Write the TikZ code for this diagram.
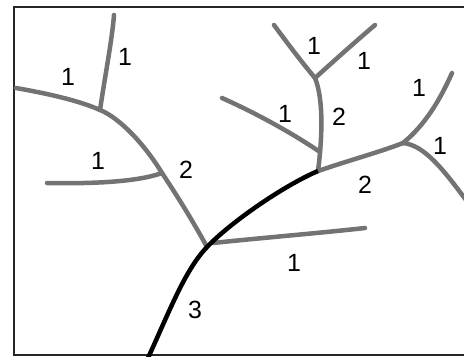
\documentclass[tikz,border=0pt]{standalone}
\usepackage{fontspec}
\setmainfont{Liberation Sans}
\begin{document}
\begin{tikzpicture}[x=1bp,y=-1bp,
  trib/.style={draw=black!55,line width=4.5bp,line cap=round},
  trunk/.style={draw=black,line width=4.5bp},
  frame/.style={draw=black!85,line width=1.6bp},
  lab/.style={font=\fontsize{25}{25}\selectfont,inner sep=0pt}]
\useasboundingbox (0,0) rectangle (464,356);
\fill[white] (0,0) rectangle (464,356);
% frame
\coordinate (ftr) at (464,7);
\coordinate (ftl) at (14,7);
\coordinate (fbl) at (14,356);
\coordinate (fbr) at (464,355);
\draw[frame] (ftr) -- (ftl) -- (fbl);
\draw[frame] (14,355) -- (fbr);
% junctions and ends
\coordinate (mouth) at (148,358);
\coordinate (j1) at (207,247);
\coordinate (j2) at (318,171);
\coordinate (j3) at (403,143);
\coordinate (j4) at (315,78);
\coordinate (j5) at (100,110);
\coordinate (j6) at (162,173);
\coordinate (j7) at (320,152);
\coordinate (j8) at (213,243);
\coordinate (e1) at (114,15);
\coordinate (e2) at (16,88);
\coordinate (e3) at (47,183);
\coordinate (e4) at (365,228);
\coordinate (e5) at (274,25);
\coordinate (e6) at (375,25);
\coordinate (e7) at (222,98);
\coordinate (e8) at (452,73);
\coordinate (e9) at (466,200);
% order 1 and 2 streams
\draw[trib] (e2) .. controls (50,94) and (80,101) .. (j5)
  .. controls (120,118) and (145,145) .. (j6)
  .. controls (180,200) and (195,225) .. (j1);
\draw[trib] (j5) .. controls (106,70) and (112,40) .. (e1);
\draw[trib] (e3) .. controls (100,184) and (140,181) .. (j6);
\draw[trib] (j8) .. controls (260,238) and (320,233) .. (e4);
\draw[trib] (j2) .. controls (322,140) and (324,100) .. (j4);
\draw[trib] (j4) .. controls (300,60) and (285,40) .. (e5);
\draw[trib] (j4) .. controls (335,60) and (355,42) .. (e6);
\draw[trib] (e7) .. controls (260,115) and (295,135) .. (j7);
\draw[trib] (j2) .. controls (350,160) and (380,152) .. (j3);
\draw[trib] (j3) .. controls (425,125) and (440,100) .. (e8);
\draw[trib] (j3) .. controls (425,145) and (445,172) .. (e9);
% order 3 trunk
\draw[trunk] (mouth) .. controls (170,310) and (185,270) .. (j1)
  .. controls (232,221) and (285,185) .. (j2);
% labels
\node[lab] (l1) at (125,57) {1};
\node[lab] (l2) at (68,77) {1};
\node[lab] (l3) at (98,161) {1};
\node[lab] (l4) at (186,170) {2};
\node[lab] (l5) at (294,263) {1};
\node[lab] (l6) at (195,310) {3};
\node[lab] (l7) at (314,46) {1};
\node[lab] (l8) at (364,61) {1};
\node[lab] (l9) at (285,114) {1};
\node[lab] (l10) at (339,117) {2};
\node[lab] (l11) at (419,88) {1};
\node[lab] (l12) at (440,146) {1};
\node[lab] (l13) at (365,185) {2};
\end{tikzpicture}
\end{document}
